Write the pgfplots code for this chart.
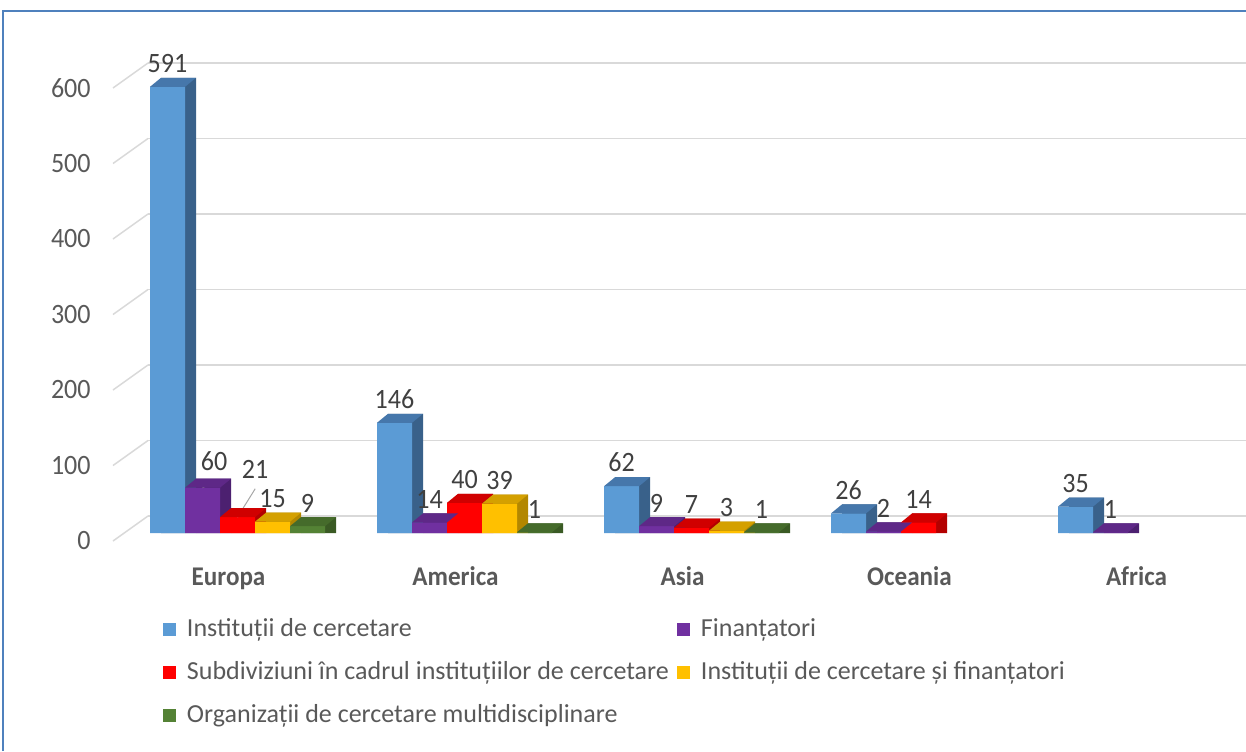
\documentclass[border=0pt]{standalone}
\usepackage{fontspec}
\setmainfont{Carlito}[FakeStretch=0.93]
\newfontfamily\legfont{Carlito}
\usepackage{pgfplots}
\usepackage{pgfplotstable}
\pgfplotsset{compat=1.18}

\definecolor{blueF}{HTML}{5B9BD5}\definecolor{blueT}{HTML}{4677AB}\definecolor{blueS}{HTML}{39618A}
\definecolor{purF}{HTML}{7030A0}\definecolor{purT}{HTML}{5E2887}\definecolor{purS}{HTML}{4C2070}
\definecolor{redF}{HTML}{FF0000}\definecolor{redT}{HTML}{D00000}\definecolor{redS}{HTML}{B30000}
\definecolor{yelF}{HTML}{FFC000}\definecolor{yelT}{HTML}{D4A000}\definecolor{yelS}{HTML}{B38700}
\definecolor{grnF}{HTML}{548235}\definecolor{grnT}{HTML}{456B2B}\definecolor{grnS}{HTML}{3A5A24}
\definecolor{gridc}{HTML}{D9D9D9}
\definecolor{tickc}{HTML}{595959}
\definecolor{labc}{HTML}{404040}
\definecolor{leadc}{HTML}{A6A6A6}
\definecolor{framec}{HTML}{4F81BD}

\pgfdeclareplotmark{topface}{%
  \pgfpathmoveto{\pgfqpoint{-8.75pt}{0pt}}%
  \pgfpathlineto{\pgfqpoint{8.75pt}{0pt}}%
  \pgfpathlineto{\pgfqpoint{14.25pt}{4.5pt}}%
  \pgfpathlineto{\pgfqpoint{-3.25pt}{4.5pt}}%
  \pgfpathclose\pgfusepathqfill}

% x = category index (0 Europa, 1 America, 2 Asia, 3 Oceania, 4 Africa)
\pgfplotstableread{
x v lx ly
0 591 0 0
1 146 0 0
2 62 0 0
3 26 0 0
4 35 0 0
}\tA
\pgfplotstableread{
x v lx ly
0 60 5.75 1.5
1 14 0 0
2 9 0 0
3 2 0 0
4 1 0 0
}\tB
\pgfplotstableread{
x v lx ly
0 21 8.75 12
1 40 0 0
2 7 0 0
3 14 0 0
}\tC
\pgfplotstableread{
x v lx ly
0 15 0 0
1 39 0 0
2 3 0 0
}\tD
\pgfplotstableread{
x v lx ly
0 9 0 0
1 1 0 0
2 1 0 0
}\tE

\pgfplotsset{
  side/.style={ybar, bar width=17.5pt, bar shift=0pt, draw=none, fill=#1, forget plot},
  front/.style={ybar, bar width=17.5pt, bar shift=0pt, draw=none, fill=#1,
    legend image code/.code={\fill[fill=#1] (0pt,-3pt) rectangle (6.5pt,3.5pt);}},
  top/.style={only marks, mark=topface, mark options={fill=#1, draw=none}, forget plot,
    nodes near coords, point meta=explicit,
    visualization depends on=\thisrow{lx} \as \lx,
    visualization depends on=\thisrow{ly} \as \ly,
    nodes near coords style={anchor=base, inner sep=0pt, text=labc,
      font=\fontsize{14}{16}\selectfont, xshift=\lx pt, yshift=7.1pt+\ly pt}},
}

\begin{document}
\begin{tikzpicture}
\begin{axis}[
  at={(74pt,109pt)}, anchor=south west,
  x=113.5pt, y=0.3775pt,
  xmin=-0.3943, xmax=4.4427, ymin=0, ymax=650,
  clip=false,
  axis line style={draw=none}, tick style={draw=none}, major tick length=0pt,
  ytick={0,100,...,600},
  ymajorgrids, major grid style={gridc, line width=0.75pt, yshift=8.5pt},
  xtick={0,1,2,3,4}, xticklabels={Europa,America,Asia,Oceania,Africa},
  yticklabel style={anchor=east, inner sep=0pt, xshift=-28.5pt, yshift=-4pt,
    font=\fontsize{14}{16}\selectfont, text=tickc},
  xticklabel style={anchor=base, inner sep=0pt, xshift=-4.5pt, yshift=-26pt,
    font=\bfseries\fontsize{13.5}{16}\selectfont, text=tickc},
  /pgf/number format/assume math mode=true,
  legend columns=2, legend cell align=left,
  legend style={at={(0.01366,-0.1732)}, anchor=north west, draw=none, fill=none,
    inner sep=0pt, outer sep=0pt, row sep=9.5pt,
    font=\legfont\fontsize{13}{15}\selectfont, text=tickc,
    nodes={inner sep=0pt, text height=9pt, text depth=3pt},
    /tikz/every odd column/.append style={column sep=5.5pt},
    /tikz/every even column/.append style={column sep=4pt}},
]
\pgfplotsinvokeforeach{0,100,200,300,400,500,600}{
  \draw[gridc, line width=0.75pt] (axis cs:-0.3943,#1) ++(0pt,8.5pt) -- ++(-17.5pt,-12.5pt);
}
% series A
\addplot[side=blueS] table[x expr=\thisrow{x}-0.30837+0.04846, y expr=\thisrow{v}+11.92] \tA;
\addplot[front=blueF] table[x expr=\thisrow{x}-0.30837, y=v] \tA;
\addlegendentry{Instituții de cercetare}
\addplot[top=blueT] table[x expr=\thisrow{x}-0.30837, y=v, meta=v] \tA;
% series B
\addplot[side=purS] table[x expr=\thisrow{x}-0.15419+0.04846, y expr=\thisrow{v}+11.92] \tB;
\addplot[front=purF] table[x expr=\thisrow{x}-0.15419, y=v] \tB;
\addlegendentry{Finanțatori}
\addplot[top=purT] table[x expr=\thisrow{x}-0.15419, y=v, meta=v] \tB;
% series C
\addplot[side=redS] table[x expr=\thisrow{x}+0.04846, y expr=\thisrow{v}+11.92] \tC;
\addplot[front=redF] table[x expr=\thisrow{x}, y=v] \tC;
\addlegendentry{Subdiviziuni în cadrul instituțiilor de cercetare}
\addplot[top=redT] table[x expr=\thisrow{x}, y=v, meta=v] \tC;
% series D
\addplot[side=yelS] table[x expr=\thisrow{x}+0.15419+0.04846, y expr=\thisrow{v}+11.92] \tD;
\addplot[front=yelF] table[x expr=\thisrow{x}+0.15419, y=v] \tD;
\addlegendentry{Instituții de cercetare și finanțatori}
\addplot[top=yelT] table[x expr=\thisrow{x}+0.15419, y=v, meta=v] \tD;
% series E
\addplot[side=grnS] table[x expr=\thisrow{x}+0.30837+0.04846, y expr=\thisrow{v}+11.92] \tE;
\addplot[front=grnF] table[x expr=\thisrow{x}+0.30837, y=v] \tE;
\addlegendentry{Organizații de cercetare multidisciplinare}
\addplot[top=grnT] table[x expr=\thisrow{x}+0.30837, y=v, meta=v] \tE;
% leader lines for moved labels
\draw[leadc, line width=0.5pt] (axis cs:-0.15419,60) -- ++(5pt,2.5pt);
\draw[leadc, line width=0.5pt] (axis cs:0,21) -- ++(8.85pt,14.2pt);
\end{axis}
\draw[framec, line width=1pt] (1.65pt,0pt) -- (1.65pt,369.75pt) -- (623pt,369.75pt);
\pgfresetboundingbox
\useasboundingbox (0,0) rectangle (623pt,375.5pt);
\end{tikzpicture}
\end{document}
